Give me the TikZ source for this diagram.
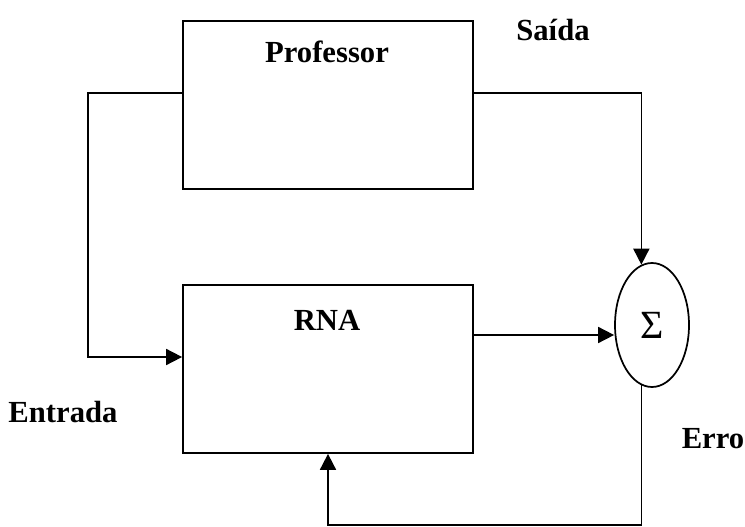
\documentclass[tikz,border=0pt]{standalone}
\usepackage{fontspec}
\setmainfont{Liberation Serif}
\usetikzlibrary{arrows.meta,shapes.geometric}
\begin{document}
\begin{tikzpicture}[x=0.75pt,y=-0.75pt,
  line width=1.3pt,
  blockbox/.style={draw,rectangle,minimum width=217.5pt,minimum height=126pt,inner sep=0pt},
  lbl/.style={font=\fontsize{23}{26}\selectfont\bfseries,inner sep=0pt},
  arr/.style={-{Triangle[length=12pt,width=12pt]}}]
\useasboundingbox (0,0) rectangle (745,527);
\node[blockbox] (prof) at (328,105) {};
\node[blockbox] (rna) at (328,369) {};
\node[draw,ellipse,minimum width=55.5pt,minimum height=93pt,inner sep=0pt,font=\fontsize{30}{32}\selectfont] (sum) at (652,325) {Σ};
\node[lbl] (tprof) at (327,52) {Professor};
\node[lbl] (trna) at (327,320) {RNA};
\node[lbl] (tsaida) at (553,30) {Saída};
\node[lbl] (tentr) at (63,412) {Entrada};
\node[lbl] (terro) at (713,439) {Erro};
\coordinate (lft) at (88,357);
\coordinate (bot) at (328,525);
\draw[arr] ([yshift=9pt]prof.west) -| (lft) -- ([yshift=9pt]rna.west);
\draw[arr] ([yshift=9pt]prof.east) -| (sum.100);
\draw[arr] ([yshift=25.5pt]rna.east) -- ([yshift=25.5pt]rna.east -| sum.west);
\draw[arr] (sum.260) |- (bot) -- (rna.south);
\end{tikzpicture}
\end{document}
